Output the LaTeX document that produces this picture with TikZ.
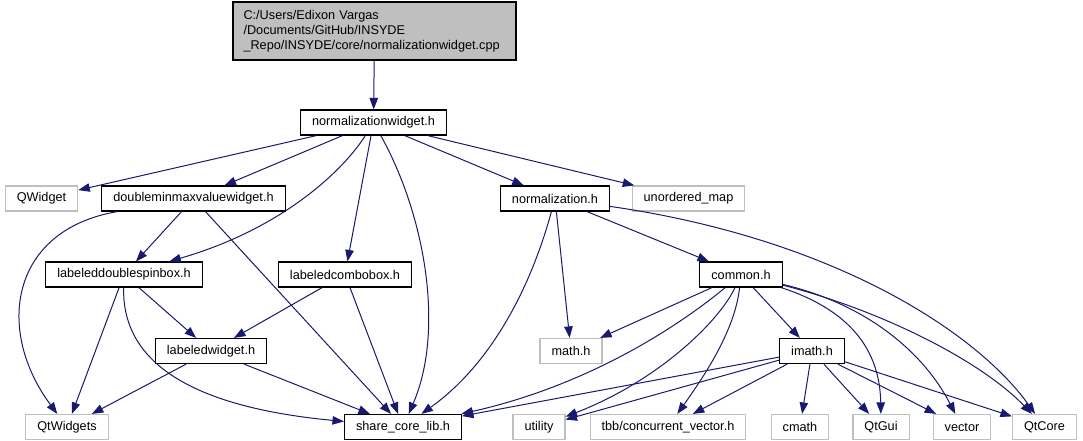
\documentclass[tikz,border=0pt]{standalone}
\usepackage{fontspec}
\setmainfont{Liberation Sans}
\usetikzlibrary{arrows.meta}
\definecolor{incblue}{HTML}{191970}
\definecolor{extgray}{HTML}{BFBFBF}
\begin{document}
\begin{tikzpicture}[x=1pt,y=-1pt,
  font=\fontsize{12.7}{15}\selectfont,
  hdr/.style={draw=black, line width=1.2pt, fill=white, minimum height=25pt, inner ysep=0pt, inner xsep=11.5pt},
  ext/.style={hdr, draw=extgray},
  src/.style={draw=black, line width=1.2pt, fill=extgray, align=left, text width=262pt, inner xsep=10.5pt, minimum height=58pt},
  inc/.style={draw=incblue, line width=1pt, -{Triangle[length=11.5pt,width=8.5pt]}}]
\useasboundingbox (0,0) rectangle (1083,440);
\node[src] (cpp) at (374.5,31) {C:/Users/Edixon Vargas\\/Documents/GitHub/INSYDE\\\_Repo/INSYDE/core/normalizationwidget.cpp};
\node[hdr] (nwh) at (373.5,122.5) {normalizationwidget.h};
\node[ext] (qwidget) at (41.5,198.5) {QWidget};
\node[hdr] (dmmvw) at (193.5,198.5) {doubleminmaxvaluewidget.h};
\node[hdr] (norm) at (555,198.5) {normalization.h};
\node[ext] (umap) at (688.5,198.5) {unordered\_map};
\node[hdr] (ldsb) at (124,274.5) {labeleddoublespinbox.h};
\node[hdr] (lcb) at (345,274.5) {labeledcombobox.h};
\node[hdr] (common) at (741,274.5) {common.h};
\node[hdr] (lw) at (211,351) {labeledwidget.h};
\node[ext] (mathh) at (571,351) {math.h};
\node[hdr] (imath) at (812,351) {imath.h};
\node[ext] (qtwidgets) at (67,427) {QtWidgets};
\node[hdr] (slib) at (403,427) {share\_core\_lib.h};
\node[ext] (utility) at (539,427) {utility};
\node[ext] (tbb) at (668,427) {tbb/concurrent\_vector.h};
\node[ext] (cmath) at (800,427) {cmath};
\node[ext] (qtgui) at (881,427) {QtGui};
\node[ext] (vector) at (962,427) {vector};
\node[ext] (qtcore) at (1044.5,427) {QtCore};
\draw[inc] (cpp) -- (nwh);
\draw[inc] (nwh) -- (qwidget);
\draw[inc] (nwh) -- (dmmvw);
\draw[inc] (nwh) .. controls (345,168) and (285,228) .. (ldsb);
\draw[inc] (nwh) -- (lcb);
\draw[inc] (nwh) .. controls (425,215) and (445,330) .. (slib);
\draw[inc] (nwh) -- (norm);
\draw[inc] (nwh) -- (umap);
\draw[inc] (dmmvw) .. controls (10,230) and (-5,330) .. (qtwidgets);
\draw[inc] (dmmvw) -- (ldsb);
\draw[inc] (dmmvw) -- (slib);
\draw[inc] (ldsb) -- (qtwidgets);
\draw[inc] (ldsb) -- (lw);
\draw[inc] (ldsb) .. controls (122,350) and (170,405) .. (slib);
\draw[inc] (lcb) -- (lw);
\draw[inc] (lcb) -- (slib);
\draw[inc] (lw) -- (qtwidgets);
\draw[inc] (lw) -- (slib);
\draw[inc] (norm) .. controls (530,290) and (490,365) .. (slib);
\draw[inc] (norm) -- (mathh);
\draw[inc] (norm) -- (common);
\draw[inc] (norm) .. controls (830,238) and (975,330) .. (qtcore);
\draw[inc] (common) -- (mathh);
\draw[inc] (common) .. controls (680,325) and (590,385) .. (slib);
\draw[inc] (common) .. controls (720,320) and (660,380) .. (utility);
\draw[inc] (common) .. controls (735,330) and (705,375) .. (tbb);
\draw[inc] (common) -- (imath);
\draw[inc] (common) .. controls (850,310) and (880,350) .. (qtgui);
\draw[inc] (common) .. controls (870,305) and (925,355) .. (vector);
\draw[inc] (common) .. controls (880,310) and (980,360) .. (qtcore);
\draw[inc] (imath) -- (slib);
\draw[inc] (imath) -- (utility);
\draw[inc] (imath) -- (tbb);
\draw[inc] (imath) -- (cmath);
\draw[inc] (imath) -- (qtgui);
\draw[inc] (imath) -- (vector);
\draw[inc] (imath) -- (qtcore);
\end{tikzpicture}
\end{document}
